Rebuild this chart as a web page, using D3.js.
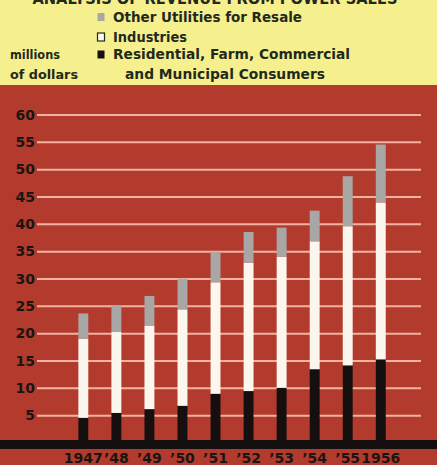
<!DOCTYPE html>
<html>
<head>
<meta charset="utf-8">
<script src="https://cdn.jsdelivr.net/npm/d3@7"></script>
<style>
  html, body { margin: 0; padding: 0; background: #f6ef8e; }
  svg { display: block; }
</style>
</head>
<body>
<script>
// Revenue from power sales, millions of dollars, stacked by customer class
const years = ["1947", "1948", "1949", "1950", "1951", "1952", "1953", "1954", "1955", "1956"];
const yearLabels = ["1947", "\u201948", "\u201949", "\u201950", "\u201951", "\u201952", "\u201953", "\u201954", "\u201955", "1956"];
const residential = [4.6, 5.5, 6.2, 6.8, 9.0, 9.5, 10.1, 13.5, 14.2, 15.3];
const industries = [14.5, 14.8, 15.3, 17.65, 20.4, 23.5, 24.0, 23.4, 25.45, 28.7];
const otherUtilities = [4.6, 4.75, 5.4, 5.6, 5.5, 5.6, 5.3, 5.6, 9.15, 10.6];
const yTicks = [5, 10, 15, 20, 25, 30, 35, 40, 45, 50, 55, 60];
const seriesKeys = ["residential", "industries", "other"];
const legendLabels = [
  ["Other Utilities for Resale"],
  ["Industries"],
  ["Residential, Farm, Commercial", "and Municipal Consumers"]
];

const W = 437, H = 465;
const colors = { residential: "#15100f", industries: "#fbf7ee", other: "#a9a7a5" };
const ink = "#1f2a1c";
const heavy = "'DejaVu Sans', sans-serif";

const svg = d3.select("body").append("svg").attr("width", W).attr("height", H);

// backgrounds
svg.append("rect").attr("x", 0).attr("y", 0).attr("width", W).attr("height", 85).attr("fill", "#f6ef8e");
svg.append("rect").attr("x", 0).attr("y", 85).attr("width", W).attr("height", H - 85).attr("fill", "#b23b2d");

const x = d3.scaleBand().domain(years).range([66.8, 397.3]).paddingInner(0.7).paddingOuter(0.35);
const y = d3.scaleLinear().domain([0, 60]).range([443, 115]);

// horizontal grid lines
svg.append("g").selectAll("line").data(yTicks).join("line")
  .attr("x1", 37).attr("x2", 421)
  .attr("y1", d => y(d)).attr("y2", d => y(d))
  .attr("stroke", "#f1b3a0").attr("stroke-width", 2);

// y tick labels
svg.append("g").selectAll("text").data(yTicks).join("text")
  .attr("x", 35).attr("y", d => y(d) + 4.5)
  .attr("text-anchor", "end")
  .attr("font-family", heavy).attr("font-weight", "bold")
  .attr("font-size", 14).attr("fill", "#1a1512")
  .text(d => d);

// stacked bars
const rows = years.map((yr, i) => ({ year: yr, residential: residential[i], industries: industries[i], other: otherUtilities[i] }));
const stack = d3.stack().keys(seriesKeys)(rows);
svg.append("g").selectAll("g").data(stack).join("g")
  .attr("fill", s => colors[s.key])
  .selectAll("rect").data(s => s).join("rect")
  .attr("x", d => x(d.data.year))
  .attr("width", x.bandwidth())
  .attr("y", d => y(d[1]))
  .attr("height", d => y(d[0]) - y(d[1]));

// base bar
svg.append("rect").attr("x", 0).attr("y", y(0) - 3).attr("width", W).attr("height", 9).attr("fill", "#15100f");

// year labels
svg.append("g").selectAll("text").data(years).join("text")
  .attr("x", d => x(d) + x.bandwidth() / 2)
  .attr("y", 463)
  .attr("text-anchor", "middle")
  .attr("font-family", heavy).attr("font-weight", "bold")
  .attr("font-size", 14).attr("fill", "#1a1512")
  .text((d, i) => yearLabels[i]);

// title (top edge)
svg.append("text")
  .attr("x", 215).attr("y", 4)
  .attr("text-anchor", "middle")
  .attr("font-family", heavy).attr("font-weight", "bold")
  .attr("font-size", 15).attr("fill", ink)
  .attr("textLength", 365).attr("lengthAdjust", "spacingAndGlyphs")
  .text("ANALYSIS OF REVENUE FROM POWER SALES");

// legend
const legendY = [21.5, 41.5, 59];
const legendWidths = [[189], [74], [237, 200]];
const swatchFill = [colors.other, colors.industries, colors.residential];
legendLabels.forEach((lines, i) => {
  svg.append("rect")
    .attr("x", 97.5).attr("y", legendY[i] - 8.5).attr("width", 7).attr("height", 8)
    .attr("fill", swatchFill[i])
    .attr("stroke", i === 1 ? ink : "none").attr("stroke-width", 1.2);
  lines.forEach((t, j) => {
    svg.append("text")
      .attr("x", j === 0 ? 113 : 125).attr("y", legendY[i] + j * 20)
      .attr("font-family", heavy).attr("font-weight", "bold")
      .attr("font-size", 14).attr("fill", ink)
      .attr("textLength", legendWidths[i][j]).attr("lengthAdjust", "spacingAndGlyphs")
      .text(t);
  });
});

// axis unit
const unitWidths = [50, 68];
["millions", "of dollars"].forEach((t, j) => {
  svg.append("text")
    .attr("x", 10).attr("y", 59 + j * 20)
    .attr("font-family", heavy).attr("font-weight", "bold")
    .attr("font-size", 12.5).attr("fill", ink)
    .attr("textLength", unitWidths[j]).attr("lengthAdjust", "spacingAndGlyphs")
    .text(t);
});
</script>
</body>
</html>
